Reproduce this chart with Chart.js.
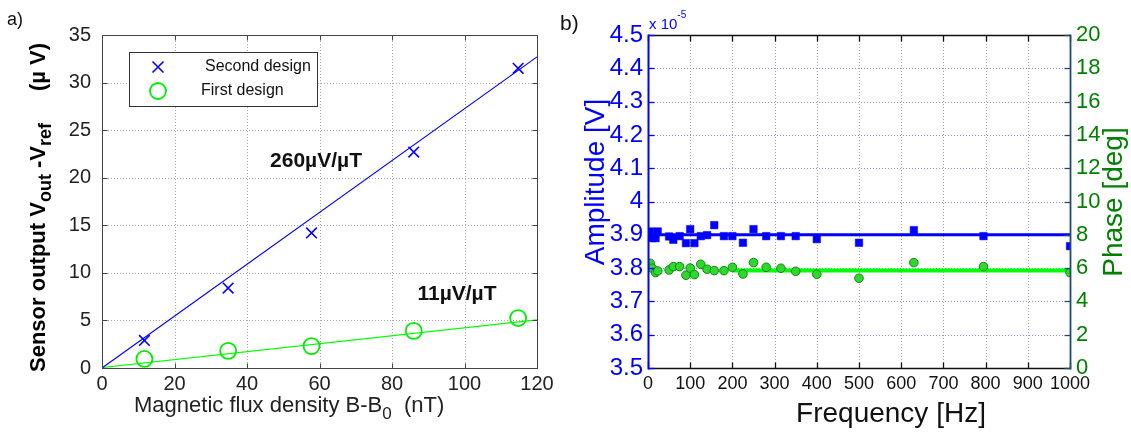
<!DOCTYPE html>
<html><head><meta charset="utf-8">
<script src="https://cdn.jsdelivr.net/npm/chart.js@4.4.1/dist/chart.umd.min.js"></script>
<style>
html,body{margin:0;padding:0;background:#fff;width:1131px;height:434px;overflow:hidden;}
#c1{position:absolute;left:0;top:0;}
#c2{position:absolute;left:550px;top:0;}
</style></head><body>
<canvas id="c1" width="565" height="434"></canvas>
<canvas id="c2" width="581" height="434"></canvas>
<script>
// ---------- Panel a) data ----------
const fluxB = [11.7, 34.8, 57.8, 86, 114.8];           // nT
const secondDesign = [2.9, 8.4, 14.2, 22.7, 31.5];     // µV
const firstDesign = [0.95, 1.8, 2.3, 3.9, 5.25];       // µV
const fitX = [0, 120];
const secondFit = [0, 32.7];
const firstFit = [0.05, 5.05];
const xTicksA = [0, 20, 40, 60, 80, 100, 120];
const yTicksA = [0, 5, 10, 15, 20, 25, 30, 35];

// ---------- Panel b) data ----------
const freqHz = [5, 10, 18, 23, 50, 60, 75, 90, 100, 110, 125, 140, 157, 180, 200, 225, 250, 280, 315, 350, 400, 500, 630, 795, 1000];
const amplitude = [3.91, 3.89, 3.89, 3.91, 3.895, 3.885, 3.896, 3.875, 3.917, 3.875, 3.896, 3.899, 3.929, 3.896, 3.896, 3.876, 3.917, 3.896, 3.896, 3.896, 3.887, 3.876, 3.914, 3.896, 3.866]; // x 1e-5 V
const phase = [6.29, 5.99, 5.73, 5.83, 5.89, 6.09, 6.09, 5.57, 6.0, 5.61, 6.23, 5.93, 5.85, 5.85, 6.05, 5.65, 6.33, 6.05, 5.99, 5.81, 5.63, 5.39, 6.33, 6.09, 5.73]; // deg
const ampMeanX = [0, 1000];
const ampMean = [3.9, 3.9];
const phaseMeanX = [200, 1000];
const phaseMean = [5.85, 5.85];

const FONT = "'Liberation Sans', Arial, Helvetica, sans-serif";
const pts = (xs, ys) => xs.map((x, i) => ({x: x, y: ys[i]}));

function richText(ctx, parts, x, y, rot, align) {
  ctx.save();
  ctx.translate(x, y);
  if (rot) ctx.rotate(rot);
  ctx.textBaseline = 'alphabetic';
  ctx.textAlign = 'left';
  let total = 0;
  parts.forEach(p => { ctx.font = p.font; total += ctx.measureText(p.t).width; });
  let u = align === 'center' ? -total / 2 : (align === 'right' ? -total : 0);
  parts.forEach(p => {
    ctx.font = p.font; ctx.fillStyle = p.color || '#000';
    ctx.fillText(p.t, u, p.dy || 0);
    u += ctx.measureText(p.t).width;
  });
  ctx.restore();
}

function dotted(ctx, x1, y1, x2, y2, color) {
  ctx.save();
  ctx.strokeStyle = color; ctx.lineWidth = 1; ctx.setLineDash([1, 2]);
  ctx.beginPath(); ctx.moveTo(x1, y1); ctx.lineTo(x2, y2); ctx.stroke();
  ctx.restore();
}
function seg(ctx, x1, y1, x2, y2, color, w) {
  ctx.save();
  ctx.strokeStyle = color; ctx.lineWidth = w || 1;
  ctx.beginPath(); ctx.moveTo(x1, y1); ctx.lineTo(x2, y2); ctx.stroke();
  ctx.restore();
}

// ---------- Panel a) ----------
const decoA = {
  id: 'decoA',
  beforeDatasetsDraw(chart) {
    const ctx = chart.ctx, a = chart.chartArea, sx = chart.scales.x, sy = chart.scales.y;
    xTicksA.slice(1, -1).forEach(v => { const p = Math.round(sx.getPixelForValue(v)) + 0.5; dotted(ctx, p, a.top, p, a.bottom, '#a8a8a8'); });
    yTicksA.slice(1, -1).forEach(v => { const p = Math.round(sy.getPixelForValue(v)) + 0.5; dotted(ctx, a.left, p, a.right, p, '#a8a8a8'); });
  },
  afterDatasetsDraw(chart) {
    const ctx = chart.ctx, a = chart.chartArea, sx = chart.scales.x, sy = chart.scales.y;
    const L = Math.round(a.left) + 0.5, R = Math.round(a.right) + 0.5, T = Math.round(a.top) + 0.5, B = Math.round(a.bottom) + 0.5;
    ctx.save(); ctx.strokeStyle = '#444'; ctx.lineWidth = 1; ctx.strokeRect(L, T, R - L, B - T); ctx.restore();
    xTicksA.forEach(v => { const p = Math.round(sx.getPixelForValue(v)) + 0.5; seg(ctx, p, B, p, B - 5, '#444'); seg(ctx, p, T, p, T + 5, '#444'); });
    yTicksA.forEach(v => { const p = Math.round(sy.getPixelForValue(v)) + 0.5; seg(ctx, L, p, L + 5, p, '#444'); seg(ctx, R, p, R - 5, p, '#444'); });

    // legend
    ctx.save();
    ctx.fillStyle = '#fff'; ctx.fillRect(129.5, 52.5, 188, 54);
    ctx.strokeStyle = '#333'; ctx.lineWidth = 1; ctx.strokeRect(129.5, 52.5, 188, 54);
    ctx.strokeStyle = '#0000ff'; ctx.lineWidth = 1.6;
    ctx.beginPath(); ctx.moveTo(152.5, 61.5); ctx.lineTo(163.5, 72.5); ctx.moveTo(163.5, 61.5); ctx.lineTo(152.5, 72.5); ctx.stroke();
    ctx.strokeStyle = '#00ee00'; ctx.lineWidth = 1.8;
    ctx.beginPath(); ctx.arc(158, 91, 8, 0, Math.PI * 2); ctx.stroke();
    ctx.fillStyle = '#111'; ctx.font = '16px ' + FONT; ctx.textBaseline = 'middle';
    ctx.fillText(chart.data.datasets[0].label, 205, 67);
    ctx.fillText(chart.data.datasets[1].label, 201, 91);
    ctx.restore();

    // slope annotations
    ctx.save();
    ctx.fillStyle = '#111'; ctx.font = 'bold 21px ' + FONT; ctx.textAlign = 'center'; ctx.textBaseline = 'middle';
    ctx.fillText('260µV/µT', 316, 161);
    ctx.fillText('11µV/µT', 457, 294);
    ctx.restore();

    // axis titles
    const f22 = '22px ' + FONT, f17 = '17px ' + FONT;
    richText(ctx, [{t: 'Magnetic flux density B-B', font: f22, color: '#222'}, {t: '0', font: f17, dy: 7, color: '#222'}, {t: '  (nT)', font: f22, color: '#222'}], 134, 412, 0, 'left');
    const b22 = 'bold 22px ' + FONT, b17 = 'bold 18px ' + FONT;
    richText(ctx, [{t: 'Sensor output V', font: b22}, {t: 'out', font: b17, dy: 6}, {t: ' -V', font: b22}, {t: 'ref', font: b17, dy: 6}], 45, 372, -Math.PI / 2, 'left');
    richText(ctx, [{t: '(µ V)', font: b22}], 45, 43, -Math.PI / 2, 'right');

    ctx.save(); ctx.fillStyle = '#111'; ctx.font = '18px ' + FONT; ctx.textBaseline = 'alphabetic';
    ctx.fillText('a)', 7, 25); ctx.restore();
  }
};

new Chart(document.getElementById('c1'), {
  type: 'scatter',
  data: { datasets: [
    {label: 'Second design', data: pts(fluxB, secondDesign), pointStyle: 'crossRot', pointRadius: 7.5, borderColor: '#0000ff', backgroundColor: '#0000ff', borderWidth: 1.6, order: 1},
    {label: 'First design', data: pts(fluxB, firstDesign), pointStyle: 'circle', pointRadius: 8, borderColor: '#00ee00', backgroundColor: 'rgba(0,0,0,0)', borderWidth: 1.8, order: 1},
    {label: 'fit second', data: pts(fitX, secondFit), showLine: true, pointRadius: 0, borderColor: '#0000ff', borderWidth: 1.2, order: 2},
    {label: 'fit first', data: pts(fitX, firstFit), showLine: true, pointRadius: 0, borderColor: '#00ff00', borderWidth: 1.2, order: 2}
  ]},
  options: {
    responsive: false, animation: false, events: [],
    layout: {padding: {top: 35, right: 28, left: 0, bottom: 0}},
    plugins: {legend: {display: false}, tooltip: {enabled: false}},
    scales: {
      x: {type: 'linear', min: 0, max: 120, afterBuildTicks(s) { s.ticks = xTicksA.map(v => ({value: v})); },
          ticks: {color: '#222', font: {family: FONT, size: 20}, padding: 4, maxRotation: 0, autoSkip: false, callback: v => String(v)},
          grid: {display: false, drawTicks: false}, border: {display: false}, afterFit(s) { s.height = 66; }},
      y: {type: 'linear', min: 0, max: 35, afterBuildTicks(s) { s.ticks = yTicksA.map(v => ({value: v})); },
          ticks: {color: '#222', font: {family: FONT, size: 20}, padding: 11, autoSkip: false, callback: v => String(v)},
          grid: {display: false, drawTicks: false}, border: {display: false}, afterFit(s) { s.width = 102; }}
    }
  },
  plugins: [decoA]
});

// ---------- Panel b) ----------
const xTicksB = [0, 100, 200, 300, 400, 500, 600, 700, 800, 900, 1000];
const ampTicks = [3.5, 3.6, 3.7, 3.8, 3.9, 4.0, 4.1, 4.2, 4.3, 4.4, 4.5];
const phaseTicks = [0, 2, 4, 6, 8, 10, 12, 14, 16, 18, 20];

const decoB = {
  id: 'decoB',
  beforeDatasetsDraw(chart) {
    const ctx = chart.ctx, a = chart.chartArea, sx = chart.scales.x, sy = chart.scales.y;
    xTicksB.slice(1, -1).forEach(v => { const p = Math.round(sx.getPixelForValue(v)) + 0.5; dotted(ctx, p, a.top, p, a.bottom, '#a0a0a0'); });
    ampTicks.slice(1, -1).forEach(v => { const p = Math.round(sy.getPixelForValue(v)) + 0.5; dotted(ctx, a.left, p, a.right, p, '#8c8cff'); });
  },
  afterDatasetsDraw(chart) {
    const ctx = chart.ctx, a = chart.chartArea, sx = chart.scales.x, sy = chart.scales.y, s2 = chart.scales.y2;
    const L = Math.round(a.left) + 0.5, R = Math.round(a.right) + 0.5, T = Math.round(a.top) + 0.5, B = Math.round(a.bottom) + 0.5;
    seg(ctx, L, T, R, T, '#111', 1.5);
    seg(ctx, L, B, R, B, '#111', 1.5);
    xTicksB.forEach(v => { const p = Math.round(sx.getPixelForValue(v)) + 0.5; seg(ctx, p, B, p, B - 6, '#111', 1.3); seg(ctx, p, T, p, T + 6, '#111', 1.3); });
    ampTicks.forEach(v => { const p = Math.round(sy.getPixelForValue(v)) + 0.5; seg(ctx, L, p, L + 6, p, '#0000ff', 1.3); });
    phaseTicks.forEach(v => { const p = Math.round(s2.getPixelForValue(v)) + 0.5; seg(ctx, R, p, R - 6, p, '#1e4b6e', 1.3); });
    seg(ctx, L, T - 1, L, B + 1, '#0000ff', 2);
    seg(ctx, R, T - 1, R, B + 1, '#1e4b6e', 1.8);

    richText(ctx, [{t: 'Frequency [Hz]', font: '28px ' + FONT, color: '#111'}], 341, 422, 0, 'center');
    richText(ctx, [{t: 'Amplitude [V]', font: '28px ' + FONT, color: '#0000ff'}], 54, 182, -Math.PI / 2, 'center');
    richText(ctx, [{t: 'Phase [deg]', font: '28px ' + FONT, color: '#008000'}], 572, 202, -Math.PI / 2, 'center');
    richText(ctx, [{t: 'x 10', font: '15px ' + FONT, color: '#0000ff'}, {t: '-5', font: '10px ' + FONT, color: '#0000ff', dy: -11}], 99, 29, 0, 'left');
    ctx.save(); ctx.fillStyle = '#111'; ctx.font = '21px ' + FONT; ctx.textBaseline = 'alphabetic';
    ctx.fillText('b)', 10, 30); ctx.restore();
  }
};

new Chart(document.getElementById('c2'), {
  type: 'scatter',
  data: { datasets: [
    {label: 'Amplitude', data: pts(freqHz, amplitude), yAxisID: 'y', pointStyle: 'rect', pointRadius: 5.3, borderColor: '#0000ff', backgroundColor: '#0000ff', borderWidth: 0.5, order: 1},
    {label: 'Phase', data: pts(freqHz, phase), yAxisID: 'y2', pointStyle: 'circle', pointRadius: 4.3, borderColor: '#0d8a0d', backgroundColor: '#2fd82f', borderWidth: 1, order: 1},
    {label: 'Amplitude mean', data: pts(ampMeanX, ampMean), yAxisID: 'y', showLine: true, pointRadius: 0, borderColor: '#0000ff', borderWidth: 3, order: 2},
    {label: 'Phase mean', data: pts(phaseMeanX, phaseMean), yAxisID: 'y2', showLine: true, pointRadius: 0, borderColor: '#00ff00', borderWidth: 4, order: 2}
  ]},
  options: {
    responsive: false, animation: false, events: [],
    layout: {padding: {top: 35, right: 0, left: 0, bottom: 0}},
    plugins: {legend: {display: false}, tooltip: {enabled: false}},
    scales: {
      x: {type: 'linear', min: 0, max: 1000, afterBuildTicks(s) { s.ticks = xTicksB.map(v => ({value: v})); },
          ticks: {color: '#111', font: {family: FONT, size: 18}, padding: 5, maxRotation: 0, autoSkip: false, callback: v => String(v)},
          grid: {display: false, drawTicks: false}, border: {display: false}, afterFit(s) { s.height = 66; }},
      y: {type: 'linear', position: 'left', min: 3.5, max: 4.5, afterBuildTicks(s) { s.ticks = ampTicks.map(v => ({value: v})); },
          ticks: {color: '#0000ff', font: {family: FONT, size: 24}, padding: 5, autoSkip: false, callback: v => String(Math.round(v * 10) / 10)},
          grid: {display: false, drawTicks: false}, border: {display: false}, afterFit(s) { s.width = 98; }},
      y2: {type: 'linear', position: 'right', min: 0, max: 20, afterBuildTicks(s) { s.ticks = phaseTicks.map(v => ({value: v})); },
          ticks: {color: '#008000', font: {family: FONT, size: 22}, padding: 6, autoSkip: false, callback: v => String(v)},
          grid: {display: false, drawTicks: false}, border: {display: false}, afterFit(s) { s.width = 61; }}
    }
  },
  plugins: [decoB]
});
</script>
</body></html>
